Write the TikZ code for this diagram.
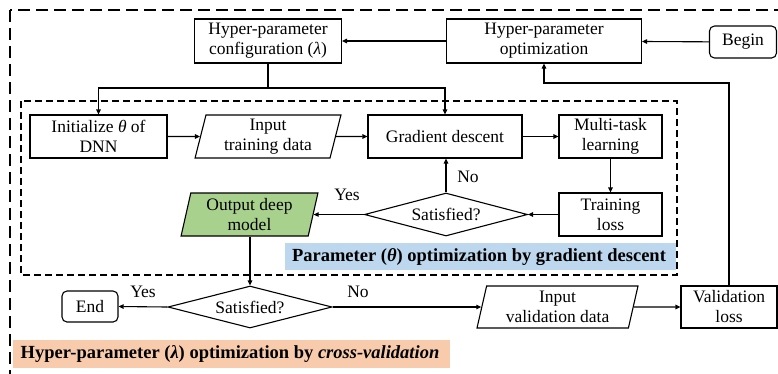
\documentclass[tikz,border=0pt]{standalone}
\usepackage{fontspec}
\IfFontExistsTF{LiberationSerif-Regular.ttf}{%
\setmainfont{LiberationSerif}[Extension=.ttf,UprightFont=*-Regular,BoldFont=*-Bold,ItalicFont=*-Italic,BoldItalicFont=*-BoldItalic]}{%
\setmainfont{Liberation Serif}}
\usetikzlibrary{shapes.geometric,arrows.meta}
\definecolor{gfill}{HTML}{A9D18E}
\definecolor{bfill}{HTML}{BDD7EE}
\definecolor{ofill}{HTML}{F8CBAD}
\begin{document}
\begin{tikzpicture}[x=1pt,y=-1pt,
  every node/.style={font=\rmfamily\fontsize{17.5}{20}\selectfont},
  stepbox/.style={draw,line width=1.1pt,rectangle,align=center,inner sep=1pt},
  termbox/.style={draw,line width=1.1pt,rectangle,rounded corners=5pt,align=center,inner sep=1pt},
  parabox/.style={draw,line width=1.1pt,trapezium,trapezium left angle=78,trapezium right angle=102,trapezium stretches=true,align=center,inner sep=1pt},
  decbox/.style={draw,line width=1.1pt,diamond,aspect=3.8,inner sep=0pt,align=center},
  arr/.style={line width=1.1pt,-{Triangle[length=5pt,width=4.5pt]}},
  lbl/.style={inner sep=0pt},
  biglbl/.style={inner sep=0pt,font=\rmfamily\bfseries\fontsize{18.5}{21}\selectfont}
]
\useasboundingbox (0,0) rectangle (778,373);
% labels backgrounds
\fill[bfill] (285,243) rectangle (676,270);
\fill[ofill] (13,340) rectangle (450,368);
\node[biglbl] (plabel) at (479,257) {Parameter (\textit{θ}) optimization by gradient descent};
\node[biglbl] (hlabel) at (230,354) {Hyper-parameter (\textit{λ}) optimization by \textit{cross-validation}};
% dashed frames
\begin{scope}
\clip (0,0) rectangle (778,373);
\draw[line width=1.3pt,dash pattern=on 12pt off 6pt] (10,10) rectangle (800,400);
\end{scope}
\draw[line width=1.1pt,dash pattern=on 7pt off 4pt] (21,101) rectangle (677,275);
% nodes
\node[stepbox,minimum width=147,minimum height=44] (hcfg) at (268,41) {Hyper-parameter\\configuration (\textit{λ})};
\node[stepbox,minimum width=195,minimum height=44] (hopt) at (544,41) {Hyper-parameter\\optimization};
\node[termbox,minimum width=67,minimum height=32] (begin) at (743,42) {Begin};
\node[stepbox,minimum width=137,minimum height=43] (init) at (98.5,136.5) {Initialize \textit{θ} of\\DNN};
\node[parabox,minimum width=146,minimum height=43] (itd) at (268,136.5) {Input\\training data};
\node[stepbox,minimum width=154,minimum height=43] (gd) at (445,136.5) {Gradient descent};
\node[stepbox,minimum width=103,minimum height=43] (mtl) at (610.5,136.5) {Multi-task\\learning};
\node[stepbox,minimum width=103,minimum height=43] (tl) at (610.5,214.5) {Training\\loss};
\node[decbox,minimum width=163,minimum height=43] (sat1) at (446,214.5) {Satisfied?};
\node[parabox,fill=gfill,minimum width=137,minimum height=43] (odm) at (249.5,214.5) {Output deep\\model};
\node[decbox,minimum width=164,minimum height=42] (sat2) at (250,307) {Satisfied?};
\node[termbox,minimum width=56,minimum height=31] (end) at (90,306.5) {End};
\node[parabox,minimum width=161,minimum height=42] (ivd) at (557.5,307) {Input\\validation data};
\node[stepbox,minimum width=96,minimum height=42] (vl) at (729,307) {Validation\\loss};
% yes/no
\node[lbl] (y1) at (347,195) {Yes};
\node[lbl] (n1) at (468,177) {No};
\node[lbl] (y2) at (143,292) {Yes};
\node[lbl] (n2) at (358,292) {No};
% connectors
\coordinate (j1) at (268,88);
\coordinate (j2) at (544,83);
\draw[arr] (begin) -- (hopt);
\draw[arr] (hopt) -- (hcfg);
\draw[line width=1.1pt] (hcfg.south) -- (j1);
\draw[arr] (j1) -| (init.north);
\draw[arr] (j1) -| (gd.north);
\draw[arr] (init) -- (itd);
\draw[arr] (itd) -- (gd);
\draw[arr] (gd) -- (mtl);
\draw[arr] (mtl) -- (tl);
\draw[arr] (tl) -- (sat1.east);
\draw[arr] (sat1.north) -- (sat1.north |- gd.south);
\draw[arr] (sat1.west) -- (odm.east |- sat1.west);
\draw[arr] (odm.south -| sat2.north) -- (sat2.north);
\draw[arr] (sat2.west) -- (end.east);
\draw[arr] (sat2.east) -- (ivd.west |- sat2.east);
\draw[arr] (ivd) -- (vl);
\draw[arr] (vl.north) |- (j2) -- (hopt.south);
\end{tikzpicture}
\end{document}
